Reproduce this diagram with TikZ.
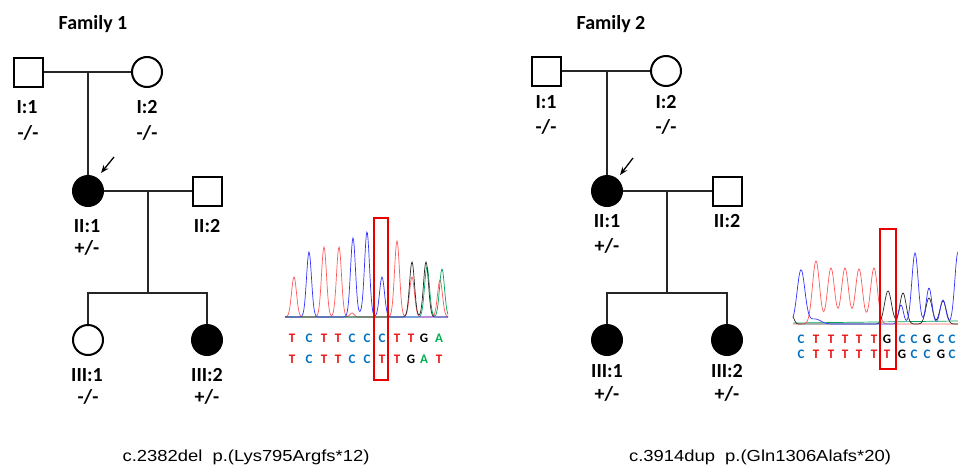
\documentclass[tikz,border=0pt]{standalone}
\usepackage{fontspec}
\newfontfamily\calfont{Carlito}
\newfontfamily\arialfont{Liberation Sans}
\usetikzlibrary{arrows.meta}
\definecolor{trred}{RGB}{255,90,90}
\definecolor{trblue}{RGB}{50,50,255}
\definecolor{trblack}{RGB}{40,40,40}
\definecolor{trgreen}{RGB}{0,165,90}
\definecolor{sqred}{RGB}{235,20,20}
\definecolor{sqblue}{RGB}{0,112,192}
\definecolor{sqgreen}{RGB}{0,176,80}
\definecolor{boxred}{RGB}{235,0,0}
\tikzset{
  declare function={gau(\u,\m,\s)=exp(-min(25,((\u-\m)/\s)^2));},
  pedline/.style={line width=1.3pt, draw=black!85},
  male/.style={draw, line width=2pt, rectangle, minimum size=29pt, inner sep=0pt},
  female/.style={draw, line width=2pt, circle, minimum size=30pt, inner sep=0pt},
  aff/.style={fill=black},
  lab/.style={font=\calfont\bfseries\fontsize{20}{22}\selectfont, anchor=base, inner sep=0pt},
  ttl/.style={font=\calfont\bfseries\fontsize{20}{22}\selectfont, anchor=base, inner sep=0pt},
  mut/.style={font=\arialfont\fontsize{16}{18}\selectfont, anchor=base, inner sep=0pt},
  seq/.style={font=\calfont\bfseries\fontsize{13}{15}\selectfont, anchor=base, inner sep=0pt},
  proband/.style={line width=1.3pt, -{Stealth[length=8pt,width=6pt]}},
  trace/.style={line width=0.7pt},
  hibox/.style={draw=boxred, line width=2pt},
}
\begin{document}
\begin{tikzpicture}[x=1pt,y=-1pt]
\useasboundingbox[fill=white] (0,0) rectangle (958,469);

%%%%%%%%%%%% Family 1
\node[ttl] (t1) at (93,29) {Family 1};
\node[male] (f1a) at (28,72) {};
\node[female] (f1b) at (147,72) {};
\coordinate (f1m) at (88,72);
\node[female,aff] (f1c) at (88,191) {};
\node[male] (f1d) at (207,191) {};
\coordinate (f1n) at (148,191);
\coordinate (f1s) at (148,293);
\coordinate (f1l) at (88,293);
\coordinate (f1r) at (207,293);
\node[female] (f1e) at (88,340) {};
\node[female,aff] (f1f) at (207,340) {};
\draw[pedline] (f1a.east) -- (f1b.west);
\draw[pedline] (f1m) -- (f1c.north);
\draw[pedline] (f1c.east) -- (f1d.west);
\draw[pedline] (f1n) -- (f1s);
\draw[pedline] (f1e.north) -- (f1l) -- (f1r) -- (f1f.north);
\coordinate (f1p0) at (114,157);
\coordinate (f1p1) at (101,173);
\draw[proband] (f1p0) -- (f1p1);

\node[lab] (l1a) at (27,113) {I:1};
\node[lab] (g1a) at (28,139) {-/-};
\node[lab] (l1b) at (147,113) {I:2};
\node[lab] (g1b) at (147,139) {-/-};
\node[lab] (l1c) at (87,232) {II:1};
\node[lab] (g1c) at (87,254) {+/-};
\node[lab] (l1d) at (207,232) {II:2};
\node[lab] (l1e) at (87,381) {III:1};
\node[lab] (g1e) at (88,403) {-/-};
\node[lab] (l1f) at (207,381) {III:2};
\node[lab] (g1f) at (207,403) {+/-};

%%%%%%%%%%%% Chromatogram 1
\begin{scope}[trace, domain=285:448, samples=260]
\draw[trred] plot (\x,{317-40*gau(\x,294,3.5)-70*gau(\x,324,3.5)-70*gau(\x,339,3.5)-76*gau(\x,397,3.5)-40*gau(\x,412,3.5)-37*gau(\x,440,3.5)-4*gau(\x,352,3)});
\draw[trgreen] plot (\x,{317-50*gau(\x,427,3.5)-48*gau(\x,442,3.5)});
\draw[trblack] plot (\x,{317-55*gau(\x,412,3.5)-55*gau(\x,426,3.5)});
\draw[trblue] plot (\x,{317-65*gau(\x,309,3.5)-79*gau(\x,353,3.5)-85*gau(\x,367,3.5)-40*gau(\x,382,3.5)-3*gau(\x,361,3)});
\end{scope}
\foreach \l/\c/\xx [count=\i] in {T/sqred/292,C/sqblue/309,T/sqred/324,T/sqred/338,C/sqblue/352,C/sqblue/367,C/sqblue/382,T/sqred/397,T/sqred/411,G/black/424,A/sqgreen/439}
  \node[seq,text=\c] (sa\i) at (\xx,342) {\l};
\foreach \l/\c/\xx [count=\i] in {T/sqred/292,C/sqblue/309,T/sqred/324,T/sqred/338,C/sqblue/352,C/sqblue/367,T/sqred/382,T/sqred/397,G/black/411,A/sqgreen/424,T/sqred/439}
  \node[seq,text=\c] (sb\i) at (\xx,363) {\l};
\draw[hibox] (374,218) rectangle (388,380);

\node[mut] (m1) at (246,461) {\scalebox{1.15}[1]{c.2382del\ \ p.(Lys795Argfs*12)}};

%%%%%%%%%%%% Family 2
\node[ttl] (t2) at (611,29) {Family 2};
\node[male] (f2a) at (546,71) {};
\node[female] (f2b) at (666,71) {};
\coordinate (f2m) at (607,71);
\node[female,aff] (f2c) at (607,191) {};
\node[male] (f2d) at (727,191) {};
\coordinate (f2n) at (667,191);
\coordinate (f2s) at (667,293);
\coordinate (f2l) at (607,293);
\coordinate (f2r) at (727,293);
\node[female,aff] (f2e) at (607,340) {};
\node[female,aff] (f2f) at (727,340) {};
\draw[pedline] (f2a.east) -- (f2b.west);
\draw[pedline] (f2m) -- (f2c.north);
\draw[pedline] (f2c.east) -- (f2d.west);
\draw[pedline] (f2n) -- (f2s);
\draw[pedline] (f2e.north) -- (f2l) -- (f2r) -- (f2f.north);
\coordinate (f2p0) at (633,158);
\coordinate (f2p1) at (620,175);
\draw[proband] (f2p0) -- (f2p1);

\node[lab] (l2a) at (546,108) {I:1};
\node[lab] (g2a) at (546,133) {-/-};
\node[lab] (l2b) at (666,108) {I:2};
\node[lab] (g2b) at (666,133) {-/-};
\node[lab] (l2c) at (607,227) {II:1};
\node[lab] (g2c) at (607,252) {+/-};
\node[lab] (l2d) at (727,227) {II:2};
\node[lab] (l2e) at (607,377) {III:1};
\node[lab] (g2e) at (607,400) {+/-};
\node[lab] (l2f) at (727,377) {III:2};
\node[lab] (g2f) at (727,400) {+/-};

%%%%%%%%%%%% Chromatogram 2
\begin{scope}
\clip (790,200) rectangle (958,400);
\begin{scope}[trace, domain=793:962, samples=260]
\draw[trgreen] (793,323) -- (958,321);
\draw[trred] plot (\x,{324-63*gau(\x,816,5)-56*gau(\x,831,5)-56*gau(\x,845,5)-55*gau(\x,859,5)-56*gau(\x,874,5)});
\draw[trblack] plot (\x,{324-8*gau(\x,792,3)-33*gau(\x,888,5)-31*gau(\x,903,4.5)-26*gau(\x,929,4.5)-23*gau(\x,943,4.5)});
\draw[trblue] plot (\x,{324-54*gau(\x,801,5.5)-5*gau(\x,815,8)-19*gau(\x,901,3.5)-71*gau(\x,915,4.5)-36*gau(\x,929,4)-24*gau(\x,943,4)-72*gau(\x,958,4.5)});
\end{scope}
\end{scope}
\foreach \l/\c/\xx [count=\i] in {C/sqblue/801,T/sqred/816,T/sqred/831,T/sqred/845,T/sqred/859,T/sqred/874,G/black/887,C/sqblue/902,C/sqblue/914,G/black/927,C/sqblue/941,C/sqblue/952}
  \node[seq,text=\c] (sc\i) at (\xx,343) {\l};
\foreach \l/\c/\xx [count=\i] in {C/sqblue/801,T/sqred/816,T/sqred/831,T/sqred/845,T/sqred/859,T/sqred/874,T/sqred/887,G/black/902,C/sqblue/914,C/sqblue/927,G/black/941,C/sqblue/952}
  \node[seq,text=\c] (sd\i) at (\xx,358) {\l};
\draw[hibox] (880,229) rectangle (896,369);

\node[mut] (m2) at (760,461) {\scalebox{1.15}[1]{c.3914dup\ \ p.(Gln1306Alafs*20)}};
\end{tikzpicture}
\end{document}
